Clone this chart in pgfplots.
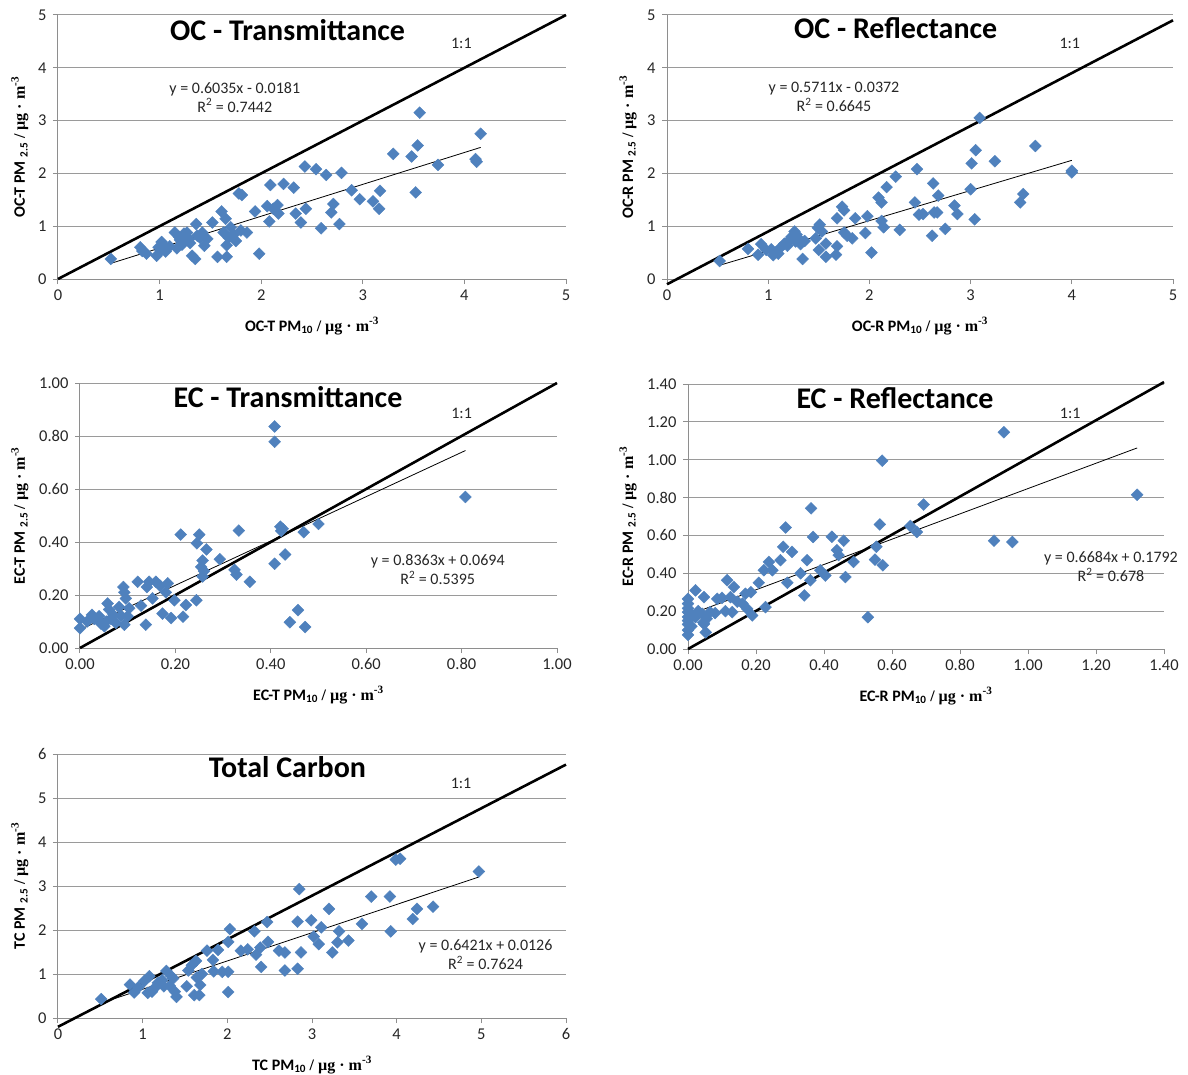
\documentclass[border=0pt]{standalone}
\usepackage{pgfplots}
\pgfplotsset{compat=1.18}
\usepackage{pgfplotstable}
\usepackage{fontspec}
\setmainfont{Carlito}
\newfontfamily\tnr{Liberation Serif}
\definecolor{ptblue}{HTML}{4F81BD}
\definecolor{axgray}{HTML}{8E8E8E}
\definecolor{grgray}{HTML}{9A9A9A}
\definecolor{txt}{HTML}{262626}

\pgfplotstableread{
x y
0.52 0.38
0.81 0.60
0.83 0.53
0.87 0.48
0.97 0.44
0.99 0.60
1.01 0.54
1.02 0.70
1.04 0.63
1.06 0.52
1.10 0.62
1.15 0.88
1.17 0.58
1.19 0.80
1.20 0.74
1.22 0.65
1.24 0.86
1.25 0.72
1.27 0.88
1.29 0.75
1.30 0.68
1.32 0.44
1.35 0.38
1.36 1.04
1.37 0.82
1.40 0.78
1.42 0.88
1.44 0.63
1.47 0.76
1.52 1.07
1.57 0.42
1.61 1.28
1.63 0.88
1.65 1.14
1.66 0.42
1.66 0.64
1.68 0.78
1.70 0.98
1.73 0.84
1.75 0.72
1.78 1.62
1.81 1.59
1.80 0.92
1.86 0.88
1.94 1.28
1.98 0.48
2.06 1.38
2.08 1.09
2.09 1.78
2.12 1.33
2.16 1.40
2.17 1.24
2.22 1.80
2.32 1.73
2.34 1.24
2.39 1.07
2.43 2.13
2.44 1.33
2.54 2.08
2.59 0.96
2.64 1.97
2.69 1.26
2.71 1.42
2.77 1.04
2.79 2.01
2.89 1.68
2.97 1.51
3.10 1.47
3.16 1.33
3.17 1.67
3.30 2.37
3.48 2.32
3.52 1.64
3.54 2.53
3.56 3.15
3.74 2.16
4.11 2.27
4.12 2.22
4.16 2.75
}\ocT

\pgfplotstableread{
x y
0.52 0.34
0.80 0.57
0.90 0.46
0.93 0.66
0.98 0.55
1.03 0.56
1.05 0.45
1.08 0.51
1.10 0.48
1.12 0.59
1.16 0.67
1.19 0.63
1.21 0.74
1.23 0.80
1.26 0.90
1.27 0.71
1.28 0.84
1.30 0.77
1.32 0.66
1.34 0.38
1.36 0.72
1.47 0.77
1.49 0.97
1.51 1.03
1.50 0.55
1.53 0.90
1.57 0.67
1.57 0.42
1.67 0.46
1.68 0.62
1.68 1.15
1.73 1.37
1.75 1.30
1.75 0.88
1.78 0.82
1.83 0.77
1.86 1.15
1.96 0.87
1.98 1.19
2.02 0.50
2.09 1.54
2.12 1.45
2.12 1.10
2.14 0.98
2.17 1.74
2.26 1.94
2.30 0.93
2.45 1.45
2.47 2.08
2.49 1.22
2.53 1.23
2.62 0.82
2.63 1.81
2.64 1.26
2.67 1.26
2.68 1.58
2.75 0.95
2.84 1.39
2.87 1.23
3.00 1.70
3.01 2.19
3.04 1.13
3.05 2.44
3.09 3.05
3.24 2.23
3.49 1.45
3.52 1.61
3.64 2.52
4.00 2.05
4.00 2.02
}\ocR

\pgfplotstableread{
x y
0.000 0.075
0.000 0.110
0.015 0.100
0.025 0.125
0.030 0.110
0.040 0.120
0.044 0.092
0.051 0.082
0.055 0.100
0.058 0.168
0.061 0.145
0.065 0.110
0.070 0.125
0.075 0.095
0.082 0.155
0.086 0.122
0.091 0.230
0.093 0.210
0.096 0.187
0.093 0.088
0.100 0.120
0.103 0.150
0.121 0.250
0.128 0.160
0.138 0.088
0.140 0.230
0.145 0.250
0.152 0.187
0.159 0.250
0.168 0.235
0.173 0.130
0.180 0.210
0.184 0.244
0.191 0.113
0.198 0.180
0.211 0.428
0.216 0.118
0.222 0.162
0.244 0.180
0.245 0.395
0.250 0.428
0.254 0.306
0.257 0.330
0.257 0.270
0.260 0.290
0.265 0.372
0.293 0.335
0.324 0.295
0.328 0.277
0.333 0.443
0.356 0.250
0.408 0.318
0.408 0.836
0.408 0.778
0.420 0.458
0.422 0.442
0.425 0.450
0.430 0.353
0.440 0.097
0.457 0.143
0.469 0.437
0.472 0.079
0.500 0.468
0.808 0.570
}\ecT

\pgfplotstableread{
x y
0.000 0.265
0.000 0.240
0.000 0.215
0.000 0.195
0.000 0.170
0.000 0.150
0.000 0.130
0.000 0.100
0.000 0.075
0.008 0.186
0.010 0.120
0.022 0.310
0.022 0.168
0.030 0.200
0.042 0.186
0.045 0.140
0.047 0.274
0.047 0.133
0.052 0.088
0.055 0.160
0.065 0.195
0.080 0.190
0.086 0.265
0.100 0.270
0.110 0.200
0.115 0.363
0.125 0.274
0.130 0.195
0.135 0.327
0.145 0.250
0.160 0.240
0.169 0.292
0.174 0.212
0.185 0.300
0.189 0.177
0.208 0.350
0.223 0.416
0.228 0.221
0.238 0.460
0.248 0.416
0.272 0.469
0.280 0.540
0.287 0.642
0.306 0.513
0.292 0.350
0.331 0.400
0.342 0.283
0.350 0.469
0.362 0.743
0.368 0.592
0.360 0.363
0.389 0.416
0.404 0.388
0.423 0.593
0.438 0.522
0.443 0.496
0.458 0.572
0.463 0.380
0.487 0.460
0.529 0.168
0.550 0.472
0.554 0.540
0.564 0.658
0.571 0.995
0.573 0.442
0.654 0.650
0.673 0.618
0.693 0.763
0.900 0.572
0.929 1.145
0.954 0.565
1.321 0.815
}\ecR

\pgfplotstableread{
x y
0.51 0.43
0.85 0.76
0.90 0.58
0.95 0.70
1.02 0.84
1.06 0.57
1.08 0.95
1.11 0.60
1.15 0.70
1.18 0.80
1.23 0.86
1.25 0.72
1.28 1.07
1.32 0.73
1.34 0.95
1.36 0.90
1.38 0.60
1.40 0.48
1.52 0.72
1.54 1.08
1.58 1.20
1.61 0.52
1.63 1.30
1.64 0.92
1.67 0.52
1.68 0.75
1.70 1.00
1.76 1.53
1.83 1.32
1.84 1.06
1.89 1.55
1.94 1.05
2.01 0.59
2.01 1.73
2.03 2.02
2.01 1.05
2.16 1.53
2.24 1.56
2.32 1.97
2.34 1.44
2.39 1.60
2.40 1.16
2.47 2.18
2.48 1.73
2.61 1.53
2.68 1.49
2.68 1.08
2.83 2.19
2.83 1.12
2.85 2.93
2.87 1.49
2.99 2.22
3.02 1.85
3.08 1.68
3.11 2.06
3.20 2.48
3.24 1.49
3.30 1.72
3.32 1.97
3.43 1.76
3.59 2.14
3.70 2.76
3.92 2.76
3.93 1.97
3.99 3.60
4.04 3.62
4.19 2.25
4.24 2.48
4.43 2.53
4.97 3.33
}\tcD

\pgfplotsset{
  panel/.style={
    scale only axis,
    anchor=south west,
    axis x line*=bottom,
    axis y line*=left,
    axis line style={draw=axgray, line width=1pt},
    tick align=outside,
    major tick length=5pt,
    tick style={draw=axgray, line width=1pt},
    ymajorgrids,
    grid style={draw=grgray, line width=1pt},
    /pgf/number format/assume math mode=true,
    ticklabel style={font=\fontsize{16.5}{16.5}\selectfont, text=txt},
    yticklabel style={xshift=-3pt},
    xticklabel style={yshift=-2pt},
    xlabel style={font=\fontsize{16}{16}\selectfont\bfseries, at={(axis description cs:0.5,0)}, anchor=center, yshift=-47pt},
    ylabel style={font=\fontsize{16}{16}\selectfont\bfseries, anchor=center, rotate=0},
    clip=false,
  },
  twodec/.style={
    xticklabel style={/pgf/number format/.cd, fixed, fixed zerofill, precision=2},
    yticklabel style={/pgf/number format/.cd, fixed, fixed zerofill, precision=2},
  },
  pts/.style={only marks, mark=square*, mark size=4.2pt, mark options={fill=ptblue, draw=ptblue, rotate=45}},
  oneone/.style={black, line width=2.6pt, no marks},
  trend/.style={black, line width=0.8pt, no marks},
}
\newcommand{\ttl}[1]{\fontsize{30}{30}\selectfont\bfseries #1}
\newcommand{\eqf}{\fontsize{16}{19}\selectfont}
\newcommand{\unit}{{\tnr\bfseries / µg · m\textsuperscript{-3}}}

\begin{document}
\begin{tikzpicture}
\path[use as bounding box] (0,0) rectangle (1188pt,-1075pt);

% OC - Transmittance
\begin{axis}[panel, at={(58pt,-279pt)}, width=508pt, height=264pt,
  xmin=0, xmax=5, ymin=0, ymax=5, xtick={0,...,5}, ytick={0,...,5},
  xlabel={OC-T PM\textsubscript{10} \unit},
  ylabel={OC-T PM \textsubscript{2.5} \unit},
  ylabel style={at={(axis description cs:-0.075,0.5)}}]
\addplot[pts] table[x=x,y=y] {\ocT};
\addplot[oneone] coordinates {(0,0) (5,5)};
\addplot[trend] coordinates {(0.52,0.2957) (4.16,2.4925)};
\node[font=\ttl{}] at (axis cs:2.26,4.72) {OC - Transmittance};
\node[font=\eqf, text=txt] at (axis cs:3.97,4.47) {1:1};
\node[font=\eqf, text=txt, align=center] at (axis cs:1.74,3.44) {y = 0.6035x - 0.0181\\R\textsuperscript{2} = 0.7442};
\end{axis}

% OC - Reflectance
\begin{axis}[panel, at={(667pt,-279pt)}, width=506pt, height=264pt,
  xmin=0, xmax=5, ymin=0, ymax=5, xtick={0,...,5}, ytick={0,...,5},
  xlabel={OC-R PM\textsubscript{10} \unit},
  ylabel={OC-R PM \textsubscript{2.5} \unit},
  ylabel style={at={(axis description cs:-0.077,0.5)}}]
\addplot[pts] table[x=x,y=y] {\ocR};
\addplot[oneone] coordinates {(0,-0.1) (5,4.9)};
\addplot[trend] coordinates {(0.52,0.2598) (4.0,2.2472)};
\node[font=\ttl{}] at (axis cs:2.26,4.75) {OC - Reflectance};
\node[font=\eqf, text=txt] at (axis cs:3.98,4.47) {1:1};
\node[font=\eqf, text=txt, align=center] at (axis cs:1.65,3.44) {y = 0.5711x - 0.0372\\R\textsuperscript{2} = 0.6645};
\end{axis}

% EC - Transmittance
\begin{axis}[panel, twodec, at={(80pt,-648pt)}, width=477pt, height=265pt,
  xmin=0, xmax=1, ymin=0, ymax=1, xtick={0,0.2,...,1}, ytick={0,0.2,...,1},
  xlabel={EC-T PM\textsubscript{10} \unit},
  ylabel={EC-T PM \textsubscript{2.5} \unit},
  ylabel style={at={(axis description cs:-0.126,0.5)}}]
\addplot[pts] table[x=x,y=y] {\ecT};
\addplot[oneone] coordinates {(0,0) (1,1)};
\addplot[trend] coordinates {(0,0.0694) (0.808,0.7451)};
\node[font=\ttl{}] at (axis cs:0.436,0.947) {EC - Transmittance};
\node[font=\eqf, text=txt] at (axis cs:0.80,0.887) {1:1};
\node[font=\eqf, text=txt, align=center] at (axis cs:0.75,0.296) {y = 0.8363x + 0.0694\\R\textsuperscript{2} = 0.5395};
\end{axis}

% EC - Reflectance
\begin{axis}[panel, twodec, at={(688pt,-649pt)}, width=476pt, height=265pt,
  xmin=0, xmax=1.4, ymin=0, ymax=1.4, xtick={0,0.2,...,1.4}, ytick={0,0.2,...,1.4},
  xlabel={EC-R PM\textsubscript{10} \unit},
  ylabel={EC-R PM \textsubscript{2.5} \unit},
  ylabel style={at={(axis description cs:-0.126,0.5)}}]
\addplot[pts] table[x=x,y=y] {\ecR};
\addplot[oneone] coordinates {(0,0) (1.4,1.41)};
\addplot[trend] coordinates {(0,0.1792) (1.321,1.0622)};
\node[font=\ttl{}] at (axis cs:0.609,1.326) {EC - Reflectance};
\node[font=\eqf, text=txt] at (axis cs:1.124,1.247) {1:1};
\node[font=\eqf, text=txt, align=center] at (axis cs:1.244,0.433) {y = 0.6684x + 0.1792\\R\textsuperscript{2} = 0.678};
\end{axis}

% Total Carbon
\begin{axis}[panel, at={(58pt,-1018pt)}, width=508pt, height=264pt,
  xmin=0, xmax=6, ymin=0, ymax=6, xtick={0,...,6}, ytick={0,...,6},
  xlabel={TC PM\textsubscript{10} \unit},
  ylabel={TC PM \textsubscript{2.5} \unit},
  ylabel style={at={(axis description cs:-0.075,0.5)}}]
\addplot[pts] table[x=x,y=y] {\tcD};
\addplot[oneone] coordinates {(0,-0.2) (6,5.76)};
\addplot[trend] coordinates {(0.51,0.3401) (4.97,3.2038)};
\node[font=\ttl{}] at (axis cs:2.71,5.70) {Total Carbon};
\node[font=\eqf, text=txt] at (axis cs:4.76,5.34) {1:1};
\node[font=\eqf, text=txt, align=center] at (axis cs:5.05,1.43) {y = 0.6421x + 0.0126\\R\textsuperscript{2} = 0.7624};
\end{axis}
\end{tikzpicture}
\end{document}
